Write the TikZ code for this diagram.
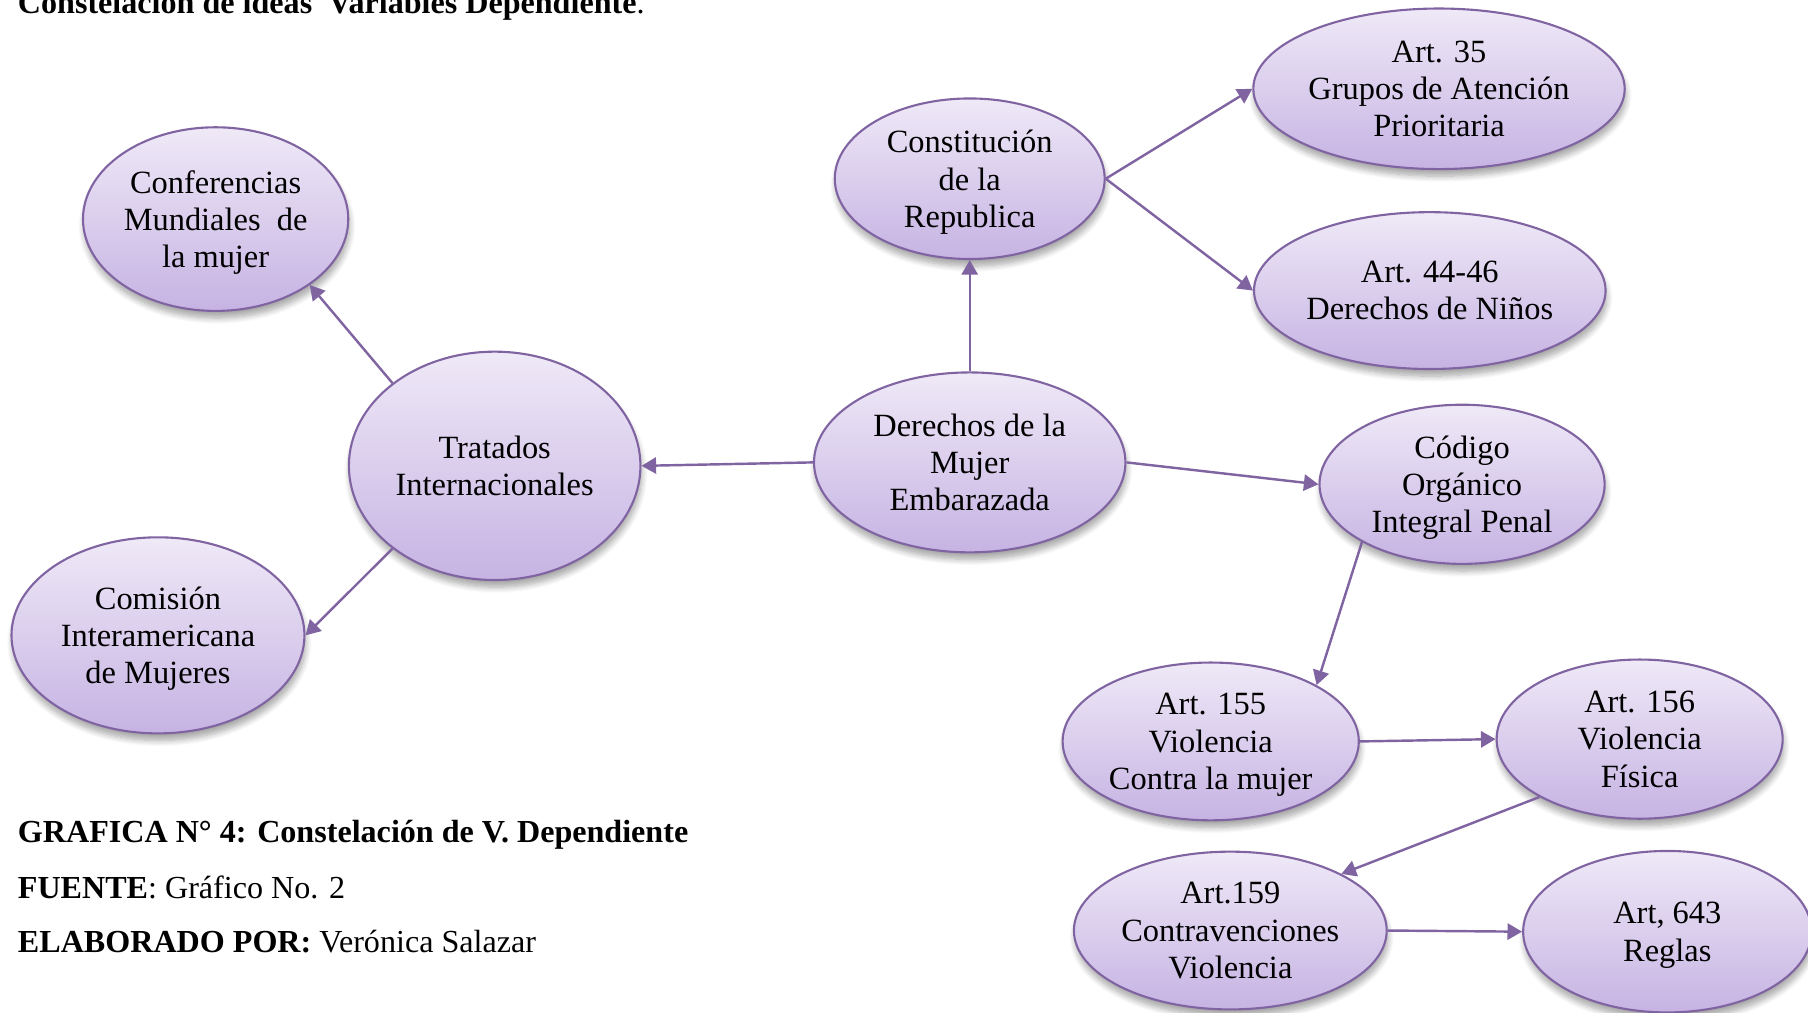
\documentclass[tikz,border=0pt]{standalone}
\usepackage{fontspec}
\setmainfont{Liberation Serif}
\usepackage{tikz}
\usetikzlibrary{shapes, arrows.meta, shadows.blur}
\usepackage{xcolor}
\definecolor{lavtop}{HTML}{EFE9F7}
\definecolor{lavbot}{HTML}{C6B3E3}
\definecolor{lavline}{HTML}{8064A2}

\begin{document}
\begin{tikzpicture}[x=0.0125cm, y=-0.0125cm,
        idea/.style={ellipse, draw=lavline, line width=0.65pt, top color=lavtop, bottom color=lavbot,
            align=center, inner sep=0pt, text depth=0pt, font=\fontsize{10}{11.5}\selectfont,
            blur shadow={shadow xshift=0.4pt, shadow yshift=-2.2pt, shadow blur steps=8, shadow opacity=35}},
        link/.style={draw=lavline, line width=0.75pt, -{Triangle[length=4.5pt, width=5pt]}},
        capt/.style={anchor=base west, inner sep=0pt, font=\fontsize{9.9}{12}\selectfont}]
        \useasboundingbox (0,0) rectangle (1568,878);
        \node[capt] (titulo) at (15,12) {\textbf{Constelación de ideas\ \ Variables Dependiente}.};
        \begin{scope}
            \node[idea, minimum width=2.875cm, minimum height=1.99cm] (conf) at (187,190) {Conferencias\\Mundiales\ \ de\\la mujer};
            \node[idea, minimum width=3.16cm, minimum height=2.475cm] (trat) at (429,404) {Tratados\\Internacionales};
            \node[idea, minimum width=3.175cm, minimum height=2.125cm] (com) at (137,551) {Comisión\\Interamericana\\de Mujeres};
            \node[idea, minimum width=3.375cm, minimum height=1.95cm] (der) at (841,401) {Derechos de la\\Mujer\\Embarazada};
            \node[idea, minimum width=2.925cm, minimum height=1.74cm] (const) at (841,155) {Constitución\\de la\\Republica};
            \draw[link] (trat.141) -- (conf.-35);
            \draw[link] (trat.219) -- (com.east);
            \draw[link] (der.west) -- (trat.east);
            \draw[link] (der.north) -- (const.south);
        \end{scope}
        \begin{scope}
            \node[idea, minimum width=4.025cm, minimum height=1.74cm] (art35) at (1248,77) {Art. 35\\Grupos de Atención\\Prioritaria};
            \node[idea, minimum width=3.81cm, minimum height=1.70cm] (art44) at (1240,252) {Art. 44-46\\Derechos de Niños};
            \node[idea, minimum width=3.09cm, minimum height=1.725cm] (cod) at (1268,420) {Código\\Orgánico\\Integral Penal};
            \node[idea, minimum width=3.21cm, minimum height=1.71cm] (art155) at (1050,643) {Art. 155\\Violencia\\Contra la mujer};
            \node[idea, minimum width=3.10cm, minimum height=1.725cm] (art156) at (1422,641) {Art. 156\\Violencia\\Física};
            \node[idea, minimum width=3.39cm, minimum height=1.71cm] (art159) at (1067,807) {Art.159\\Contravenciones\\Violencia};
            \node[idea, minimum width=3.125cm, minimum height=1.75cm] (art643) at (1446,808) {Art, 643\\Reglas};
            \draw[link] (const.east) -- (art35.west);
            \draw[link] (const.east) -- (art44.west);
            \draw[link] (der.east) -- (cod.west);
            \draw[link] (cod.210) -- (art155.28);
            \draw[link] (art155.east) -- (art156.west);
            \draw[link] (art156.210) -- (art159.27);
            \draw[link] (art159.east) -- (art643.west);
        \end{scope}
        \node[capt] (graf) at (15,731) {\textbf{GRAFICA N° 4: Constelación de V. Dependiente}};
        \node[capt] (fuente) at (15,779) {\textbf{FUENTE}: Gráfico No. 2};
        \node[capt] (elab) at (15,826) {\textbf{ELABORADO POR:} Verónica Salazar};
    \end{tikzpicture}
\end{document}
